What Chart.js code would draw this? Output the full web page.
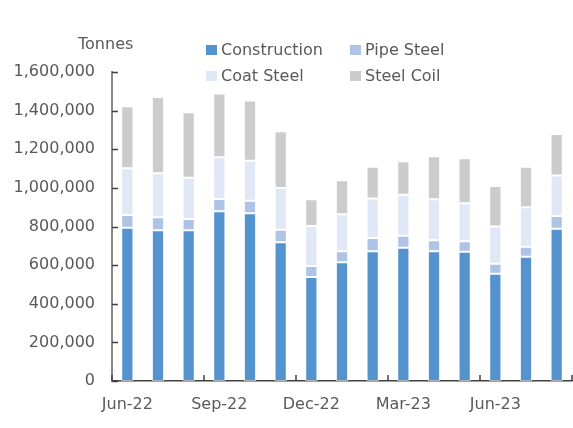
<!DOCTYPE html>
<html>
<head>
<meta charset="utf-8">
<script src="https://cdn.jsdelivr.net/npm/chart.js@4/dist/chart.umd.min.js"></script>
<style>
  html, body { margin: 0; padding: 0; background: #fff; }
  #wrap { position: relative; width: 573px; height: 428px; font-family: "DejaVu Sans", Verdana, sans-serif; color: #595959; }
  #unit { position: absolute; left: 78px; top: 34px; font-size: 16px; }
  .leg { position: absolute; font-size: 16px; line-height: 19px; white-space: nowrap; }
  .leg span { display: inline-block; width: 11px; height: 10px; margin-right: 4px; vertical-align: 0px; }
</style>
</head>
<body>
<div id="wrap">
  <canvas id="steelChart"></canvas>
  <div id="unit">Tonnes</div>
  <div id="legend"></div>
</div>
<script>
// ================= DATA =================
const months = [
  "Jun-22", "Jul-22", "Aug-22", "Sep-22", "Oct-22", "Nov-22", "Dec-22", "Jan-23",
  "Feb-23", "Mar-23", "Apr-23", "May-23", "Jun-23", "Jul-23", "Aug-23"
];

const construction = [793000, 781000, 781000, 879000, 869000, 719000, 538000, 615000, 672000, 690000, 672000, 669000, 555000, 643000, 788000];
const pipeSteel    = [66000, 67000, 58000, 64000, 64000, 64000, 58000, 57000, 69000, 62000, 57000, 55000, 52000, 52000, 67000];
const coatSteel    = [242000, 228000, 213000, 216000, 207000, 217000, 207000, 192000, 204000, 213000, 212000, 197000, 193000, 205000, 209000];
const steelCoil    = [322000, 394000, 339000, 330000, 313000, 293000, 138000, 176000, 165000, 173000, 223000, 232000, 210000, 210000, 215000];

const seriesNames  = ["Construction", "Pipe Steel", "Coat Steel", "Steel Coil"];
const seriesColors = ["#5593CF", "#AEC3E6", "#E0E8F6", "#CCCCCC"];

const yMax = 1600000;
const yStep = 200000;

// ================= INNER TICK MARKS =================
const innerTicks = {
  id: "innerTicks",
  afterDraw(chart) {
    const { ctx, scales: { x, y } } = chart;
    ctx.save();
    ctx.strokeStyle = "#404040";
    ctx.lineWidth = 1.5;
    ctx.beginPath();
    for (let v = 0; v <= yMax; v += yStep) {
      const py = Math.round(y.getPixelForValue(v)) + 0.5;
      ctx.moveTo(x.left, py);
      ctx.lineTo(x.left + 6, py);
    }
    for (let i = 0; i <= months.length; i += 3) {
      const px = x.getPixelForValue(i - 0.5);
      ctx.moveTo(px, y.bottom);
      ctx.lineTo(px, y.bottom - 6);
    }
    ctx.stroke();
    ctx.restore();
  }
};

// ================= CHART =================
const datasets = [construction, pipeSteel, coatSteel, steelCoil].map((data, i) => ({
  label: seriesNames[i],
  data,
  backgroundColor: seriesColors[i],
  borderColor: "rgba(255,255,255,0.6)",
  borderWidth: 1,
  borderSkipped: false,
  categoryPercentage: 1,
  barPercentage: 0.4,
}));

const font = { family: "'DejaVu Sans', Verdana, sans-serif", size: 16 };

new Chart(document.getElementById("steelChart"), {
  type: "bar",
  data: { labels: months, datasets },
  plugins: [innerTicks],
  options: {
    responsive: true,
    maintainAspectRatio: false,
    animation: false,
    layout: { padding: { top: 72, right: 1, left: 0, bottom: 0 } },
    plugins: {
      legend: { display: false },
      tooltip: { enabled: false },
    },
    scales: {
      x: {
        stacked: true,
        offset: true,
        grid: { display: false, drawTicks: false },
        border: { display: true, color: "#404040", width: 1.5 },
        ticks: {
          color: "#595959",
          font,
          padding: 14,
          autoSkip: false,
          maxRotation: 0,
          callback: (val, i) => (i % 3 === 0 ? months[i] : ""),
        },
        afterFit: (scale) => { scale.height = 47; },
      },
      y: {
        stacked: true,
        min: 0,
        max: yMax,
        grid: { display: false, drawTicks: false },
        border: { display: true, color: "#888888", width: 2 },
        ticks: {
          stepSize: yStep,
          color: "#595959",
          font,
          padding: 17,
          callback: (v) => v.toLocaleString("en-US"),
        },
        afterFit: (scale) => { scale.width = 112; },
      },
    },
  },
});

// ================= LEGEND =================
const legendPos = [[206, 40], [350, 40], [206, 66], [350, 66]];
document.getElementById("legend").innerHTML = seriesNames
  .map((name, i) =>
    `<div class="leg" style="left:${legendPos[i][0]}px;top:${legendPos[i][1]}px">` +
    `<span style="background:${seriesColors[i]}"></span>${name}</div>`)
  .join("");
</script>
</body>
</html>
